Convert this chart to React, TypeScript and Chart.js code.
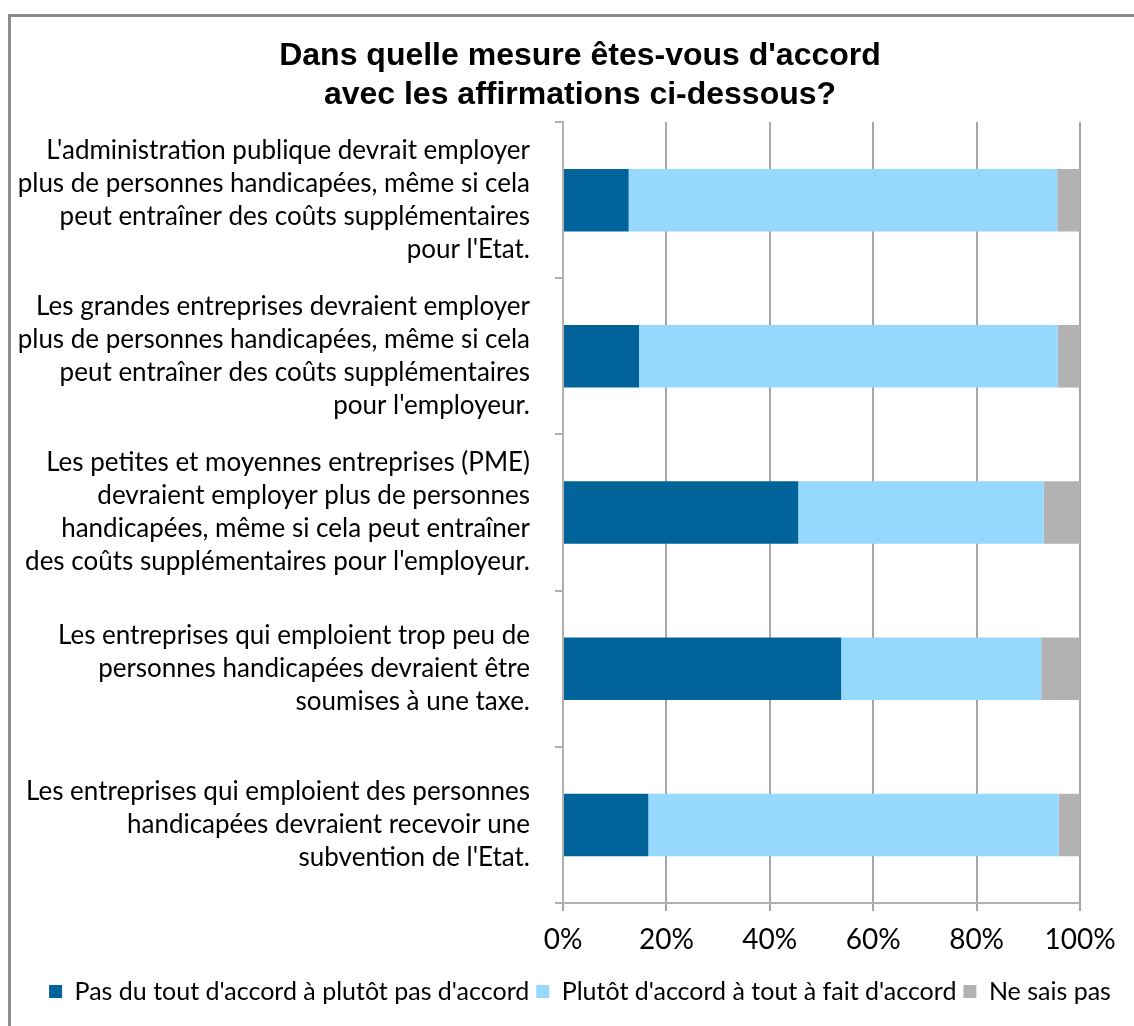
import React, { useEffect, useRef } from "react";
import { Chart, registerables } from "chart.js";

Chart.register(...registerables);

const titleLines = [
  "Dans quelle mesure êtes-vous d'accord",
  "avec les affirmations ci-dessous?",
];

const categories: string[][] = [
  [
    "L'administration publique devrait employer",
    "plus de personnes handicapées, même si cela",
    "peut entraîner des coûts supplémentaires",
    "pour l'Etat.",
  ],
  [
    "Les grandes entreprises devraient employer",
    "plus de personnes handicapées, même si cela",
    "peut entraîner des coûts supplémentaires",
    "pour l'employeur.",
  ],
  [
    "Les petites et moyennes entreprises (PME)",
    "devraient employer plus de personnes",
    "handicapées, même si cela peut entraîner",
    "des coûts supplémentaires pour l'employeur.",
  ],
  [
    "Les entreprises qui emploient trop peu de",
    "personnes handicapées devraient être",
    "soumises à une taxe.",
  ],
  [
    "Les entreprises qui emploient des personnes",
    "handicapées devraient recevoir une",
    "subvention de l'Etat.",
  ],
];

const seriesNames = [
  "Pas du tout d'accord à plutôt pas d'accord",
  "Plutôt d'accord à tout à fait d'accord",
  "Ne sais pas",
];

const disagree = [12.7, 14.7, 45.5, 53.8, 16.5];
const agree = [82.9, 81.0, 47.5, 38.7, 79.4];
const dontKnow = [4.4, 4.3, 7.0, 7.5, 4.1];

const xTicks = [0, 20, 40, 60, 80, 100];

const colors = ["#00639A", "#96D8FE", "#B2B2B2"];

const shiftPlugin = {
  id: "shiftBlocks",
  afterLayout(chart: any) {
    const t = chart.titleBlock;
    if (t) {
      t.left += 40;
      t.right += 40;
    }
    const l = chart.legend;
    if (l) {
      l.left += 40;
      l.right += 40;
    }
  },
};

export default function App() {
  const ref = useRef<HTMLCanvasElement | null>(null);

  useEffect(() => {
    document.body.style.margin = "0";
    document.body.style.overflow = "hidden";
    const canvas = ref.current;
    if (!canvas) return;
    const labelFont = "Lato, 'Open Sans', sans-serif";
    const chart = new Chart(canvas, {
      type: "bar",
      data: {
        labels: categories,
        datasets: [disagree, agree, dontKnow].map((d, i) => ({
          label: seriesNames[i],
          data: d,
          backgroundColor: colors[i],
          borderWidth: 0,
          barPercentage: 0.4,
          categoryPercentage: 1.0,
        })),
      },
      plugins: [shiftPlugin],
      options: {
        indexAxis: "y",
        animation: false,
        responsive: false,
        maintainAspectRatio: false,
        layout: { padding: { left: 0, right: 82, top: 0, bottom: 12 } },
        plugins: {
          title: {
            display: true,
            text: titleLines,
            color: "#000",
            font: { family: "'Liberation Sans', Arial, sans-serif", weight: "bold", size: 32, lineHeight: 1.22 },
            padding: { top: 37, bottom: 7 },
          },
          legend: {
            position: "bottom",
            labels: {
              boxWidth: 13,
              boxHeight: 13,
              color: "#000",
              padding: 7,
              font: { family: labelFont, size: 25 },
            },
          },
          tooltip: { enabled: false },
        },
        scales: {
          x: {
            stacked: true,
            min: 0,
            max: 100,
            afterBuildTicks: (scale: any) => {
              scale.ticks = xTicks.map((v) => ({ value: v }));
            },
            afterFit: (scale: any) => {
              scale.height = 69;
            },
            ticks: {
              callback: (v: any) => v + "%",
              color: "#000",
              font: { family: labelFont, size: 28 },
              padding: 12,
            },
            grid: { color: "#a6a6a6", lineWidth: 2, drawTicks: true, tickLength: 8 },
            border: { display: true, color: "#b0b0b0", width: 2 },
          },
          y: {
            stacked: true,
            afterFit: (scale: any) => {
              scale.width = 563;
            },
            ticks: {
              color: "#000",
              font: { family: labelFont, size: 26, lineHeight: 1.27 },
              padding: 25,
            },
            grid: {
              offset: true,
              drawOnChartArea: false,
              tickLength: 8,
              color: "#b0b0b0",
              lineWidth: 2,
            },
            border: { display: true, color: "#b0b0b0", width: 2 },
          },
        },
      },
    } as any);
    return () => chart.destroy();
  }, []);

  return (
    <div style={{ position: "relative", width: 1134, height: 1026, overflow: "hidden", background: "#fff" }}>
      <canvas
        ref={ref}
        width={1162}
        height={1026}
        style={{ position: "absolute", left: 0, top: 0, width: 1162, height: 1026 }}
      />
      <div
        style={{
          position: "absolute",
          left: 8,
          top: 14,
          width: 1200,
          height: 1100,
          borderLeft: "3px solid #8c8c8c",
          borderTop: "3px solid #8c8c8c",
          pointerEvents: "none",
        }}
      />
    </div>
  );
}
